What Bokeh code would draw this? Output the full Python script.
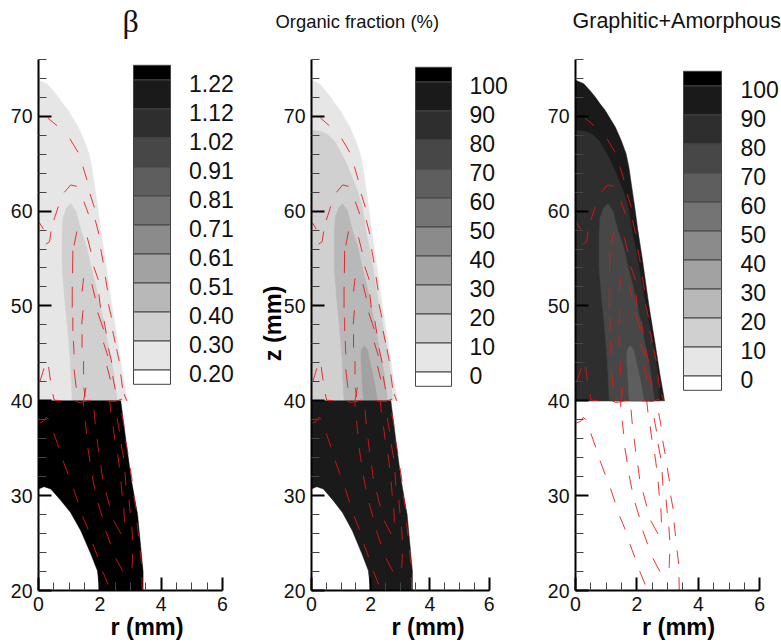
from bokeh.plotting import figure
from bokeh.layouts import row
from bokeh.models import Range1d, FixedTicker, Title
from bokeh.embed import file_html
from bokeh.resources import INLINE

# ---------- data ----------
outer_r = [0, .27, .47, .65, .8, .97, 1.3, 1.49, 1.65, 1.74, 1.83, 1.93, 2.03, 2.17, 2.39, 2.58, 2.75, 2.9, 0]
outer_z = [73.8, 73.42, 72.71, 72.01, 71.3, 70.6, 68.84, 67.43, 66.02, 64.6, 62.6, 60.4, 58, 55.1, 50.07, 46.3, 42.78, 40, 40]
cap_r = [0, .32, .54, .77, .94, 1.14, 1.33, 1.56, 1.72, 1.86, 2.0, 2.2, 2.4, 2.57, 2.68, 2.74, 0]
cap_z = [68.55, 68.4, 68.1, 67.4, 66.5, 65.3, 63.9, 62.1, 60.4, 57.6, 55.5, 51.6, 48.1, 45.2, 42.8, 40, 40]
core_r = [1.05, .91, .8, .77, .77, .85, .94, 1.03, 1.1, 2.57, 2.46, 2.29, 2.12, 2.0, 1.86, 1.72, 1.57, 1.39, 1.22]
core_z = [60.8, 60.3, 59.3, 57.5, 54, 50.8, 48, 44.5, 40, 40, 42.8, 45.6, 48.4, 50.2, 52.3, 54, 56.2, 57.9, 60]
tip_r = [1.78, 1.69, 1.67, 1.7, 1.75, 2.23, 2.12, 2.0, 1.89]
tip_z = [45.8, 45.4, 44.6, 42.8, 40, 40, 42.1, 43.8, 45.4]
lower_r = [0, 2.68, 2.85, 3.03, 3.23, 3.41, 3.41, 2.0, 1.92, 1.7, 1.38, 1.05, .73, .4, .18, 0]
lower_z = [40, 40, 35.8, 31.6, 28, 22, 20, 20, 22.1, 23.9, 26.3, 28.2, 29.5, 30.7, 30.95, 30.7]

stream_r = [
    [.03, .16, .25, .33], [.50, .66], [.80, .97], [1.14, 1.29], [1.44, 1.62], [1.77, 1.93], [2.09, 2.27],
    [1.81, 1.85], [1.52, 1.57], [1.91, 1.96], [1.61, 1.68], [2.03, 2.09], [1.75, 1.84], [2.2, 2.32],
    [1.94, 2.08], [2.19, 2.35], [2.45, 2.69], [2.52, 2.75], [2.56, 2.64], [2.71, 2.79], [2.43, 2.49],
    [2.84, 2.92], [2.69, 2.78], [2.58, 2.64], [2.99, 3.06], [2.82, 2.85], [2.69, 2.73], [3.1, 3.18],
    [2.95, 2.99], [2.78, 2.8], [3.21, 3.26], [3.04, 3.07], [3.31, 3.36], [3.07, 3.05], [3.37, 3.38],
    [.30, .6], [1.02, 1.29], [1.45, 1.58], [1.68, 1.82], [1.48, 1.63], [.84, 1.05, 1.25], [.5, .65],
    [.03, .16], [.24, .36, .41], [1.25, 1.16], [1.85, 1.97], [1.59, 1.71], [2.03, 2.11], [1.8, 1.95],
    [1.12, 1.11], [1.47, 1.42], [1.74, 1.85], [2.18, 2.25], [1.97, 2.02], [2.28, 2.38], [1.1, 1.1],
    [1.12, 1.12], [1.45, 1.41], [1.93, 2.12], [2.14, 2.21], [2.42, 2.5], [1.42, 1.42], [1.14, 1.16],
    [2.12, 2.26], [2.28, 2.39], [2.55, 2.63], [1.47, 1.47], [1.16, 1.23], [2.23, 2.34], [2.42, 2.5],
    [2.68, 2.74], [.05, .18], [.33, .39], [1.48, 1.52], [.47, .51, .75], [1.2, 1.3, 1.47, 1.68],
    [1.47, 1.47, 1.55], [2.17, 2.5, 2.72], [2.36, 2.32], [2.79, 2.88],
]
stream_z = [
    [37.65, 37.82, 38.25, 38.04], [36.56, 35.09], [33.68, 32.21], [30.74, 29.3], [27.82, 26.42], [24.91, 23.51], [22.04, 20.63],
    [39.05, 37.54], [37.89, 36.49], [36, 34.63], [35.02, 33.54], [33.19, 31.75], [32.11, 30.63], [30.35, 28.88],
    [29.23, 27.75], [26.32, 24.88], [27.37, 25.96], [23.4, 22], [38.18, 36.77], [38.7, 37.3], [37.3, 35.89],
    [35.79, 34.39], [35.44, 33.93], [34.39, 32.95], [32.91, 31.51], [32.49, 31.05], [31.47, 30], [30, 28.6],
    [29.58, 28.18], [28.67, 27.19], [27.16, 25.75], [26.74, 25.3], [24.21, 22.81], [23.86, 22.39], [21.4, 20],
    [69.82, 69.01], [67.64, 66.2], [64.68, 63.27], [61.8, 60.39], [60.99, 59.68], [61.97, 62.75, 62.61], [59.05, 60.49],
    [58.77, 58.1], [56.51, 56.76, 57.85], [57.85, 56.37], [59.05, 57.57], [57.22, 55.7], [55.99, 54.58], [54.15, 52.75],
    [55.81, 53.45], [52.92, 51.51], [52.29, 50.81], [53.06, 51.65], [51.23, 49.82], [50.18, 48.77], [52.01, 49.82],
    [48.77, 47.36], [49.54, 48.06], [49.3, 47.54], [48.42, 47.08], [47.36, 46.13], [47.01, 45.6], [46.3, 44.89],
    [46.13, 44.72], [45.53, 44.01], [45.42, 44.19], [44.19, 42.78], [43.31, 41.37], [43.66, 42.25], [42.61, 41.2],
    [42.78, 41.37], [42.08, 43.42], [43.56, 42.15], [41.37, 40.39], [40.7, 40.07, 40], [40, 39.82, 39.89, 40.07],
    [39.37, 40, 41.4], [40, 39.93, 40.18], [38.77, 40], [40.7, 40],
]

beta_labels = ["0.20", "0.30", "0.40", "0.51", "0.61", "0.71", "0.81", "0.91", "1.02", "1.12", "1.22"]
pct_labels = ["0", "10", "20", "30", "40", "50", "60", "70", "80", "90", "100"]
band_bottom = [-.5, 0, 1, 2, 3, 4, 5, 6, 7, 8, 9, 10]
band_top = [0, 1, 2, 3, 4, 5, 6, 7, 8, 9, 10, 10.5]
band_colors = ["#ffffff", "#e6e6e6", "#d0d0d0", "#b8b8b8", "#a2a2a2", "#8b8b8b",
               "#747474", "#5e5e5e", "#474747", "#2e2e2e", "#1a1a1a", "#000000"]
z_major = [20, 30, 40, 50, 60, 70]
z_minor = [22, 24, 26, 28, 32, 34, 36, 38, 42, 44, 46, 48, 52, 54, 56, 58, 62, 64, 66, 68, 72, 74, 76]
r_major = [0, 2, 4, 6]
r_minor = [.5, 1, 1.5, 2.5, 3, 3.5, 4.5, 5, 5.5]

FONT = "Liberation Sans"
TOP_PY, BOT_PY = 56, 590
PX_PER_Z = 9.486
FIG_H = 644


def panel(page_left, page_right, frame_left, px_per_r, cb_left, cb_right, lev0_py,
          labels, layers, lower_color, title, title_px, title_font, title_size, title_gap, z_title=False):
    frame_w = page_right - frame_left
    frame_h = BOT_PY - TOP_PY
    z_top = 20 + frame_h / PX_PER_Z
    p = figure(width=page_right - page_left, height=FIG_H,
               x_range=Range1d(0, frame_w / px_per_r), y_range=Range1d(20, z_top),
               min_border_left=frame_left - page_left, min_border_right=0,
               min_border_top=TOP_PY, min_border_bottom=FIG_H - BOT_PY,
               toolbar_location=None, output_backend="svg", background_fill_color="white",
               border_fill_color=None, outline_line_color=None, title=None)
    p.grid.visible = False
    cw = cb_right - cb_left
    p.extra_x_ranges["cb"] = Range1d(-(cb_left - frame_left) / cw, (frame_left + frame_w - cb_left) / cw)
    p.extra_y_ranges["lev"] = Range1d((lev0_py - BOT_PY) / 29.0, (lev0_py - TOP_PY) / 29.0)

    for (rs, zs, col) in layers:
        p.patch(rs, zs, fill_color=col, line_color=col, line_width=.5)
    if lower_color:
        p.patch(lower_r, lower_z, fill_color=lower_color, line_color=lower_color, line_width=.5)
    p.multi_line(stream_r, stream_z, line_color="#f01010", line_width=1, line_alpha=.85)

    p.quad(left=0, right=1, bottom=band_bottom, top=band_top, fill_color=band_colors,
           line_color="#444444", line_width=1, x_range_name="cb", y_range_name="lev")
    p.text(x=[1.5] * len(labels), y=list(range(len(labels))), text=labels, x_range_name="cb", y_range_name="lev",
           text_font={"value": FONT}, text_font_size="23px", text_baseline="middle", text_color="#111111", y_offset=4)

    for ax in (p.xaxis[0], p.yaxis[0]):
        ax.axis_line_color = "black"
        ax.axis_line_width = 2
        ax.major_tick_in = 13
        ax.major_tick_out = 0
        ax.major_tick_line_width = 2
        ax.major_tick_line_color = "black"
        ax.minor_tick_in = 8
        ax.minor_tick_out = 0
        ax.minor_tick_line_width = 1
        ax.minor_tick_line_color = "#444444"
        ax.major_label_text_font = FONT
        ax.major_label_text_font_size = "19.5px"
        ax.major_label_text_color = "#111111"
        ax.axis_label_text_font = FONT
        ax.axis_label_text_font_style = "bold"
        ax.axis_label_text_font_size = "23.5px"
        ax.axis_label_text_color = "black"
    p.xaxis[0].major_label_standoff = 6
    p.yaxis[0].major_label_standoff = 6
    p.xaxis[0].ticker = FixedTicker(ticks=r_major, minor_ticks=r_minor)
    p.yaxis[0].ticker = FixedTicker(ticks=z_major, minor_ticks=z_minor)
    p.xaxis[0].bounds = (0, 6)
    p.yaxis[0].bounds = (20, 76)
    p.xaxis[0].axis_label = "r (mm)"
    p.xaxis[0].axis_label_standoff = 0
    if z_title:
        p.yaxis[0].axis_label = "z (mm)"
        p.yaxis[0].axis_label_standoff = -5

    # an empty title acts as a spacer so that the real one sits higher above the frame
    p.add_layout(Title(text=" ", text_font_size="1px", standoff=title_gap), "above")
    p.add_layout(Title(text=title, align="left", offset=title_px - frame_left, text_font=title_font,
                       text_font_size=title_size, text_font_style="normal", text_color="#111111",
                       standoff=0), "above")
    return p


p1 = panel(0, 255, 38, 30.67, 133, 170, 369.3, beta_labels,
           [(outer_r, outer_z, "#e6e6e6"), (core_r, core_z, "#d0d0d0")],
           "#000000", "\u03b2", 122, "Liberation Serif", "32px", 15)
p2 = panel(255, 544, 311, 29.6, 415, 451, 371.3, pct_labels,
           [(outer_r, outer_z, "#e6e6e6"), (cap_r, cap_z, "#d0d0d0"), (core_r, core_z, "#b8b8b8"), (tip_r, tip_z, "#a2a2a2")],
           "#1a1a1a", "Organic fraction (%)", 275, FONT, "18.4px", 22, z_title=True)
p3 = panel(544, 781, 575, 30.7, 683, 721, 375.3, pct_labels,
           [(outer_r, outer_z, "#1a1a1a"), (cap_r, cap_z, "#2e2e2e"), (core_r, core_z, "#474747"), (tip_r, tip_z, "#5e5e5e")],
           None, "Graphitic+Amorphous", 572, FONT, "21.5px", 21)

page = row(p1, p2, p3, spacing=0)
open("out.html", "w").write(file_html(page, INLINE))
